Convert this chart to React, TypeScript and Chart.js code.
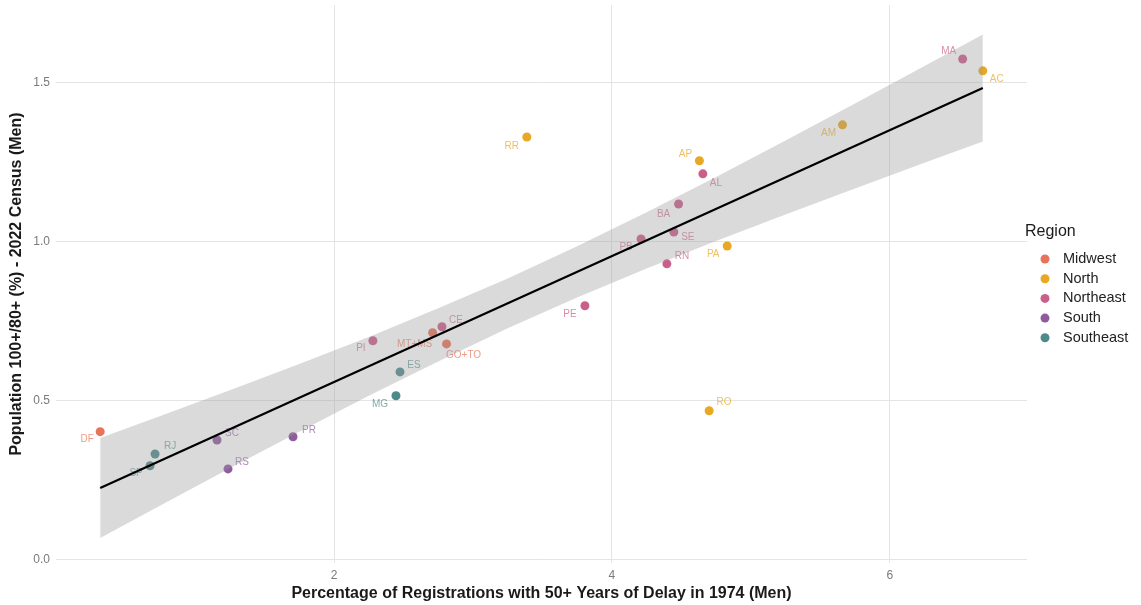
import React, { useEffect, useRef } from "react";
import { Chart, registerables } from "chart.js";

Chart.register(...registerables);

// ---------- data ----------
const states = ["DF", "RJ", "SP", "SC", "RS", "PR", "PI", "MT+MS", "CE", "GO+TO", "ES", "MG", "RR", "PE", "PB", "SE", "RN", "BA", "AL", "AP", "PA", "RO", "AM", "MA", "AC"];
const delay1974 = [0.317, 0.712, 0.676, 1.158, 1.237, 1.705, 2.28, 2.71, 2.777, 2.81, 2.475, 2.446, 3.388, 3.806, 4.21, 4.446, 4.396, 4.48, 4.655, 4.63, 4.83, 4.7, 5.66, 6.525, 6.67];
const ratio2022 = [0.403, 0.333, 0.296, 0.377, 0.286, 0.387, 0.689, 0.714, 0.733, 0.679, 0.591, 0.516, 1.33, 0.799, 1.009, 1.031, 0.931, 1.119, 1.214, 1.255, 0.987, 0.469, 1.368, 1.575, 1.538];
const stateRegion = ["Midwest", "Southeast", "Southeast", "South", "South", "South", "Northeast", "Midwest", "Northeast", "Midwest", "Southeast", "Southeast", "North", "Northeast", "Northeast", "Northeast", "Northeast", "Northeast", "Northeast", "North", "North", "North", "North", "Northeast", "North"];

const regions = ["Midwest", "North", "Northeast", "South", "Southeast"];

const fitX = [0.317, 6.67];
const fitY = [0.226, 1.484];

const bandX = [0.317, 0.75, 1.25, 1.75, 2.25, 2.75, 3.25, 3.75, 4.25, 4.75, 5.25, 5.75, 6.25, 6.67];
const bandUpper = [0.383, 0.452, 0.533, 0.616, 0.701, 0.791, 0.885, 0.986, 1.093, 1.204, 1.319, 1.435, 1.553, 1.652];
const bandLower = [0.069, 0.171, 0.288, 0.403, 0.516, 0.624, 0.728, 0.825, 0.916, 1.003, 1.086, 1.168, 1.249, 1.316];

const xTicks = [2, 4, 6];
const yTicks = [0, 0.5, 1, 1.5];

const xTitle = "Percentage of Registrations with 50+ Years of Delay in 1974 (Men)";
const yTitle = "Population 100+/80+ (%) - 2022 Census (Men)";
const legendTitle = "Region";

// ---------- styles ----------
const regionColors: Record<string, string> = {
  Midwest: "#E8735A",
  North: "#E9A823",
  Northeast: "#CB5F8B",
  South: "#8F5B9E",
  Southeast: "#4F8A8B",
};
const regionLabelColors: Record<string, string> = {
  Midwest: "rgba(232,115,90,0.72)",
  North: "rgba(233,168,35,0.72)",
  Northeast: "rgba(203,95,139,0.72)",
  South: "rgba(143,91,158,0.72)",
  Southeast: "rgba(79,138,139,0.72)",
};
// label nudges (pixels) per state, in the order of `states`
const labelNudge: [number, number][] = [
  [-13, 8], [15, -8], [-14, 8], [15, -7], [14, -7], [16, -7], [-12, 7], [-18, 11], [14, -7], [17, 11],
  [14, -7], [-16, 8], [-15, 9], [-15, 8], [-15, 8], [14, 5], [15, -8], [-15, 10], [13, 9], [-14, -7],
  [-14, 8], [15, -8], [-14, 8], [-14, -8], [14, 8],
];

const FONT = "'Liberation Sans', Arial, Helvetica, sans-serif";

export default function App() {
  const canvasRef = useRef<HTMLCanvasElement | null>(null);

  useEffect(() => {
    document.body.style.margin = "0";
    const canvas = canvasRef.current;
    if (!canvas) return;

    const scatterSets = regions.map((r) => ({
      type: "scatter" as const,
      label: r,
      data: states
        .map((s, i) => ({ x: delay1974[i], y: ratio2022[i], region: stateRegion[i] }))
        .filter((p) => p.region === r)
        .map((p) => ({ x: p.x, y: p.y })),
      backgroundColor: regionColors[r],
      borderWidth: 0,
      pointRadius: 4.5,
      pointHoverRadius: 4.5,
      order: 10,
    }));

    const labelPlugin = {
      id: "stateLabels",
      afterDatasetDraw(chart: any, args: any) {
        if (args.index !== 0) return;
        const ctx = chart.ctx;
        const xs = chart.scales.x;
        const ys = chart.scales.y;
        ctx.save();
        ctx.font = `10px ${FONT}`;
        ctx.textAlign = "center";
        ctx.textBaseline = "middle";
        states.forEach((s, i) => {
          const px = xs.getPixelForValue(delay1974[i]);
          const py = ys.getPixelForValue(ratio2022[i]);
          const [dx, dy] = labelNudge[i];
          ctx.fillStyle = regionLabelColors[stateRegion[i]];
          ctx.fillText(s, px + dx, py + dy);
        });
        ctx.restore();
      },
    };

    const legendPlugin = {
      id: "customLegend",
      afterDraw(chart: any) {
        const ctx = chart.ctx;
        ctx.save();
        ctx.textBaseline = "middle";
        ctx.textAlign = "left";
        ctx.fillStyle = "#1a1a1a";
        ctx.font = `16px ${FONT}`;
        ctx.fillText(legendTitle, 1025, 232);
        ctx.font = `14.5px ${FONT}`;
        regions.forEach((r, i) => {
          const y = 259 + i * 19.7;
          ctx.fillStyle = regionColors[r];
          ctx.beginPath();
          ctx.arc(1045, y, 4.5, 0, Math.PI * 2);
          ctx.fill();
          ctx.fillStyle = "#222";
          ctx.fillText(r, 1063, y);
        });
        ctx.restore();
      },
    };

    const chart = new Chart(canvas, {
      type: "scatter",
      data: {
        datasets: [
          ...scatterSets,
          {
            type: "line" as const,
            label: "lower",
            data: bandX.map((x, i) => ({ x, y: bandLower[i] })),
            borderWidth: 0,
            pointRadius: 0,
            fill: false,
            tension: 0,
            order: 5,
          },
          {
            type: "line" as const,
            label: "upper",
            data: bandX.map((x, i) => ({ x, y: bandUpper[i] })),
            borderWidth: 0,
            pointRadius: 0,
            fill: "-1",
            backgroundColor: "rgba(153,153,153,0.36)",
            tension: 0,
            order: 5,
          },
          {
            type: "line" as const,
            label: "fit",
            data: fitX.map((x, i) => ({ x, y: fitY[i] })),
            borderColor: "#000",
            borderWidth: 2.2,
            pointRadius: 0,
            fill: false,
            order: 1,
          },
        ] as any,
      },
      options: {
        responsive: false,
        animation: false,
        events: [],
        layout: { padding: { top: 5, right: 114, left: 0, bottom: 0 } },
        plugins: {
          legend: { display: false },
          tooltip: { enabled: false },
        },
        scales: {
          x: {
            type: "linear",
            min: -0.001,
            max: 6.988,
            afterBuildTicks: (s: any) => {
              s.ticks = xTicks.map((v) => ({ value: v }));
            },
            afterFit: (s: any) => {
              s.height = 42;
              s.paddingLeft = 0;
              s.paddingRight = 0;
            },
            ticks: {
              color: "#7a7a7a",
              font: { size: 12, family: FONT },
              padding: 5,
              callback: (v: any) => String(v),
            },
            grid: { color: "#E4E4E4", lineWidth: 1, drawTicks: false },
            border: { display: false },
            title: {
              display: true,
              text: xTitle,
              color: "#1a1a1a",
              font: { size: 16, weight: "bold", family: FONT },
              padding: { top: 0, bottom: 1.4 },
            },
          },
          y: {
            type: "linear",
            min: -0.01,
            max: 1.745,
            afterBuildTicks: (s: any) => {
              s.ticks = yTicks.map((v) => ({ value: v }));
            },
            afterFit: (s: any) => {
              s.width = 56;
              s.paddingTop = 0;
              s.paddingBottom = 0;
            },
            ticks: {
              color: "#7a7a7a",
              font: { size: 12, family: FONT },
              padding: 6,
              callback: (v: any) => Number(v).toFixed(1),
            },
            grid: { color: "#E4E4E4", lineWidth: 1, drawTicks: false },
            border: { display: false },
            title: {
              display: true,
              text: yTitle,
              color: "#1a1a1a",
              font: { size: 16, weight: "bold", family: FONT },
              padding: { top: 7.4, bottom: 0 },
            },
          },
        },
      } as any,
      plugins: [labelPlugin, legendPlugin],
    });

    return () => {
      chart.destroy();
    };
  }, []);

  return (
    <div style={{ width: 1141, height: 605, background: "#fff" }}>
      <canvas ref={canvasRef} width={1141} height={605} style={{ display: "block", width: 1141, height: 605 }} />
    </div>
  );
}
